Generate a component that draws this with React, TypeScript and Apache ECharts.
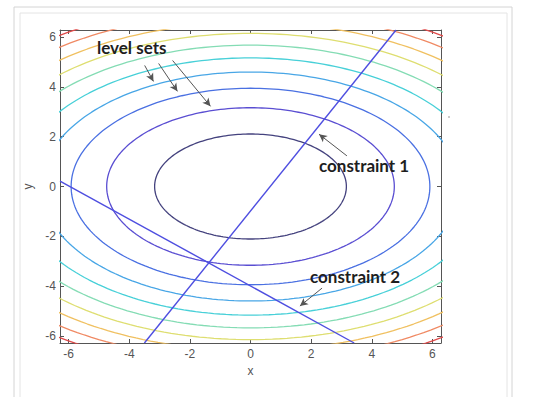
import React, { useEffect, useRef } from "react";
import * as echarts from "echarts";

// f(x, y) = 4x² + 9y², contour levels
const fCoeffs = [4, 9];
const levels = [40, 90, 140, 190, 240, 290, 340, 390, 440, 490];
const levelColors = [
  "#44427e", "#5a4ed2", "#4a70e2", "#48a6e6", "#48d0d8",
  "#84dcb4", "#dede70", "#f0c060", "#f08a64", "#e04a4a",
];
const axisRange = [-2 * Math.PI, 2 * Math.PI];
const tickValues = [-6, -4, -2, 0, 2, 4, 6];

const constraint1 = [[-3.5, -6.283], [4.8, 6.283]];
const constraint2 = [[-6.283, 0.22], [3.42, -6.283]];

const levelArrows = [
  [[-3.49, 4.86], [-3.2, 4.22]],
  [[-3.03, 4.94], [-2.41, 3.82]],
  [[-2.57, 5.06], [-1.32, 3.22]],
];
const c1Arrow = [[3.18, 1.23], [2.26, 2.1]];
const c2Arrow = [[2.36, -4.08], [1.63, -4.8]];

function ellipse(level: number): number[][] {
  const a = Math.sqrt(level / fCoeffs[0]);
  const b = Math.sqrt(level / fCoeffs[1]);
  const pts: number[][] = [];
  const n = 240;
  for (let i = 0; i <= n; i++) {
    const t = (i / n) * Math.PI * 2;
    pts.push([a * Math.cos(t), b * Math.sin(t)]);
  }
  return pts;
}

export default function App() {
  const ref = useRef<HTMLDivElement>(null);
  useEffect(() => {
    const chart = echarts.init(ref.current!, null, { renderer: "svg" });
    const axisCommon = {
      type: "value" as const,
      min: axisRange[0],
      max: axisRange[1],
      splitLine: { show: false },
      axisLine: { show: true, onZero: false, lineStyle: { color: "#555", width: 1 } },
      axisTick: { show: true, inside: true, length: 4, customValues: tickValues, lineStyle: { color: "#555" } },
    };
    const labelStyle = {
      color: "#555",
      fontSize: 12,
      fontFamily: "Liberation Sans, Arial, sans-serif",
      customValues: tickValues,
    };
    const arrowLine = (pairs: number[][][]) =>
      pairs.map((p) => [{ coord: p[0] }, { coord: p[1] }]);

    const series: any[] = levels.map((L, i) => ({
      type: "line",
      data: ellipse(L),
      showSymbol: false,
      symbol: "none",
      clip: true,
      smooth: false,
      lineStyle: { color: levelColors[i], width: 1.3 },
      silent: true,
    }));
    series.push({
      type: "line",
      data: constraint1,
      symbol: "none",
      clip: true,
      lineStyle: { color: "#4e4ee0", width: 1.4 },
    });
    series.push({
      type: "line",
      data: constraint2,
      symbol: "none",
      clip: true,
      lineStyle: { color: "#4e4ee0", width: 1.4 },
      markLine: {
        silent: true,
        symbol: ["none", "arrow"],
        symbolSize: [6, 8],
        label: { show: false },
        lineStyle: { color: "#555", width: 1, type: "solid" },
        data: arrowLine([...levelArrows, c1Arrow, c2Arrow]),
      },
    });

    const annFont = "bold 17px Lato, 'Open Sans', sans-serif";
    chart.setOption({
      animation: false,
      backgroundColor: "#fff",
      grid: { left: 60, right: 105, top: 30, bottom: 54 },
      xAxis: [
        {
          ...axisCommon,
          position: "bottom",
          name: "x",
          nameLocation: "middle",
          nameGap: 22,
          nameTextStyle: { color: "#555", fontSize: 12, fontFamily: "Liberation Sans, Arial, sans-serif" },
          axisLabel: { ...labelStyle, margin: 5 },
        },
        {
          ...axisCommon,
          position: "top",
          axisLabel: { show: false },
        },
      ],
      yAxis: [
        {
          ...axisCommon,
          position: "left",
          name: "y",
          nameLocation: "middle",
          nameGap: 22,
          nameRotate: 90,
          nameTextStyle: { color: "#555", fontSize: 12, fontFamily: "Liberation Sans, Arial, sans-serif" },
          axisLabel: { ...labelStyle, margin: 4 },
        },
        {
          ...axisCommon,
          position: "right",
          axisLabel: { show: false },
        },
      ],
      graphic: [
        { type: "rect", shape: { x: 14, y: 7, width: 498, height: 400 }, style: { fill: "none", stroke: "#d4d4d4", lineWidth: 1 }, z: -1 },
        { type: "rect", shape: { x: 20, y: 13, width: 487, height: 400 }, style: { fill: "none", stroke: "#e4e4e4", lineWidth: 1 }, z: -1 },
        { type: "line", shape: { x1: 448, y1: 117, x2: 450, y2: 117 }, style: { stroke: "#999", lineWidth: 1 } },
        {
          type: "text", left: 97, top: 39, z: 100,
          style: { text: "level sets", fill: "#1e1e1e", font: annFont },
        },
        {
          type: "text", left: 319, top: 157, z: 100,
          style: { text: "constraint 1", fill: "#1e1e1e", font: annFont },
        },
        {
          type: "text", left: 310, top: 268, z: 100,
          style: { text: "constraint 2", fill: "#1e1e1e", font: annFont },
        },
      ],
      series,
    });
    return () => chart.dispose();
  }, []);
  return (
    <div
      ref={ref}
      style={{ position: "absolute", left: 0, top: 0, width: 546, height: 397 }}
    />
  );
}
